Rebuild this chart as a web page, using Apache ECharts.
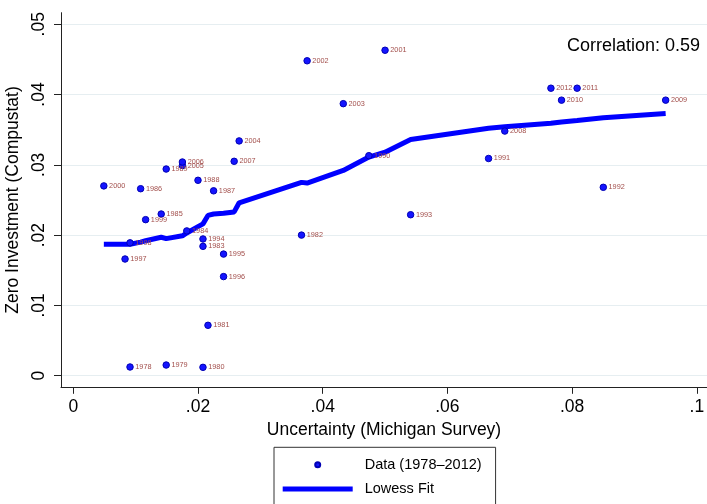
<!doctype html>
<html lang="en">
<head>
<meta charset="UTF-8">
<script src="https://cdn.jsdelivr.net/npm/echarts@6/dist/echarts.min.js"></script>
<title>Zero investment vs uncertainty</title>
<style>
  html, body { margin: 0; padding: 0; background: #fff; }
</style>
</head>
<body>
<div id="main" style="width: 707px;height:504px;"></div>
<script>
// data
var years = [1978, 1979, 1980, 1981, 1982, 1983, 1984, 1985, 1986, 1987, 1988, 1989,
    1990, 1991, 1992, 1993, 1994, 1995, 1996, 1997, 1998, 1999, 2000, 2001, 2002,
    2003, 2004, 2005, 2006, 2007, 2008, 2009, 2010, 2011, 2012];
var uncertainty = [0.0091, 0.0149, 0.0208, 0.0216, 0.0366, 0.0208, 0.0182, 0.0141, 0.0108, 0.0225, 0.0200, 0.0149,
    0.0474, 0.0666, 0.0850, 0.0541, 0.0208, 0.0241, 0.0241, 0.0083, 0.0091, 0.0116, 0.0049, 0.0500, 0.0375,
    0.0433, 0.0266, 0.0175, 0.0175, 0.0258, 0.0692, 0.0950, 0.0783, 0.0808, 0.0766];
var zeroInvestment = [0.00124, 0.00152, 0.00119, 0.00717, 0.0200, 0.0184, 0.0206, 0.0230, 0.0266, 0.0263, 0.0278, 0.0294,
    0.0313, 0.0309, 0.0268, 0.0229, 0.01945, 0.0173, 0.0141, 0.0166, 0.0189, 0.0222, 0.0270, 0.0463, 0.0448,
    0.0387, 0.0334, 0.0299, 0.0304, 0.0305, 0.0348, 0.0392, 0.0392, 0.0409, 0.0409];

var lowessX = [0.0049, 0.0083, 0.0091, 0.0108, 0.0116, 0.0141, 0.0149, 0.0175, 0.0182, 0.0200, 0.0208, 0.0216,
    0.0225, 0.0241, 0.0258, 0.0266, 0.0366, 0.0375, 0.0433, 0.0474, 0.0500, 0.0541, 0.0666, 0.0692,
    0.0766, 0.0783, 0.0808, 0.0850, 0.0950];
var lowessY = [0.0187, 0.0187, 0.0187, 0.0190, 0.0192, 0.0197, 0.0195, 0.0199, 0.0203, 0.0212, 0.0216, 0.0228,
    0.0230, 0.0231, 0.0233, 0.0246, 0.0275, 0.0274, 0.0292, 0.0311, 0.0318, 0.0336, 0.0352, 0.0354,
    0.0359, 0.0361, 0.0363, 0.0367, 0.0373];

var xTicks = [0, 0.02, 0.04, 0.06, 0.08, 0.1];
var yTicks = [0, 0.01, 0.02, 0.03, 0.04, 0.05];
var correlation = '0.59';

function stataNum(v) {
    // stata drops the leading zero: .02, .1
    if (v === 0) return '0';
    return String(+v.toFixed(4)).replace(/^0\./, '.');
}

var myChart = echarts.init(document.getElementById('main'));

var scatterData = [];
for (var i = 0; i < years.length; i++) {
    scatterData.push([uncertainty[i], zeroInvestment[i], years[i]]);
}
var lowessData = [];
for (var j = 0; j < lowessX.length; j++) {
    lowessData.push([lowessX[j], lowessY[j]]);
}

var fontName = 'Liberation Sans, Arial, sans-serif';

var option = {
    animation: false,
    textStyle: { fontFamily: fontName },
    title: {
        text: 'Correlation: ' + correlation,
        right: 2,
        top: 32,
        textStyle: { fontSize: 18, fontWeight: 'normal', color: '#000', fontFamily: fontName }
    },
    grid: {
        left: 61,
        right: 0,
        top: 12.7,
        bottom: 116.7,
        containLabel: false,
        outerBoundsMode: 'none'
    },
    legend: {
        orient: 'vertical',
        left: 274,
        top: 447.3,
        height: 90,
        itemWidth: 70,
        itemHeight: 5,
        itemGap: 7.3,
        padding: [9, 14, 20, 8.7],
        borderColor: '#333',
        borderWidth: 1,
        textStyle: { fontSize: 14.5, color: '#000', lineHeight: 17, padding: [0, 0, 0, 7], fontFamily: fontName },
        data: [
            { name: 'Data (1978\u20132012)', icon: 'circle' },
            { name: 'Lowess Fit', icon: 'rect' }
        ]
    },
    xAxis: {
        type: 'value',
        min: -0.00197,
        max: 0.10163,
        name: 'Uncertainty (Michigan Survey)',
        nameLocation: 'middle',
        nameGap: 26,
        nameTextStyle: { fontSize: 17.5, color: '#000' },
        axisLine: { show: true, onZero: false, lineStyle: { color: '#222', width: 1 } },
        axisTick: { show: true, length: 6.5, customValues: xTicks, lineStyle: { color: '#222' } },
        axisLabel: {
            customValues: xTicks,
            margin: 10.5,
            fontSize: 17.5,
            color: '#000',
            formatter: stataNum
        },
        splitLine: { show: false }
    },
    yAxis: {
        type: 'value',
        min: -0.00165,
        max: 0.05164,
        name: 'Zero Investment (Compustat)',
        nameLocation: 'middle',
        nameGap: 32,
        nameTextStyle: { fontSize: 17.5, color: '#000' },
        axisLine: { show: true, onZero: false, lineStyle: { color: '#222', width: 1 } },
        axisTick: { show: true, length: 7, customValues: yTicks, lineStyle: { color: '#222' } },
        axisLabel: {
            customValues: yTicks,
            rotate: 90,
            margin: 13,
            fontSize: 17.5,
            color: '#000',
            formatter: stataNum
        },
        splitLine: { show: true, lineStyle: { color: '#e6eef1', width: 1.2 } }
    },
    series: [
        {
            name: 'Data (1978\u20132012)',
            type: 'scatter',
            data: scatterData,
            symbol: 'circle',
            symbolSize: 6.5,
            itemStyle: { color: '#1414ff', borderColor: '#0000b4', borderWidth: 1, opacity: 1 },
            label: {
                show: true,
                position: 'right',
                distance: 1.5,
                fontSize: 7.3,
                color: '#a24f4c',
                formatter: function (p) { return p.value[2]; }
            },
            z: 3
        },
        {
            name: 'Lowess Fit',
            type: 'line',
            data: lowessData,
            symbol: 'none',
            showSymbol: false,
            lineStyle: { color: '#0000ff', width: 5 },
            itemStyle: { color: '#0000ff' },
            z: 2
        }
    ]
};

myChart.setOption(option);
</script>
</body>
</html>
